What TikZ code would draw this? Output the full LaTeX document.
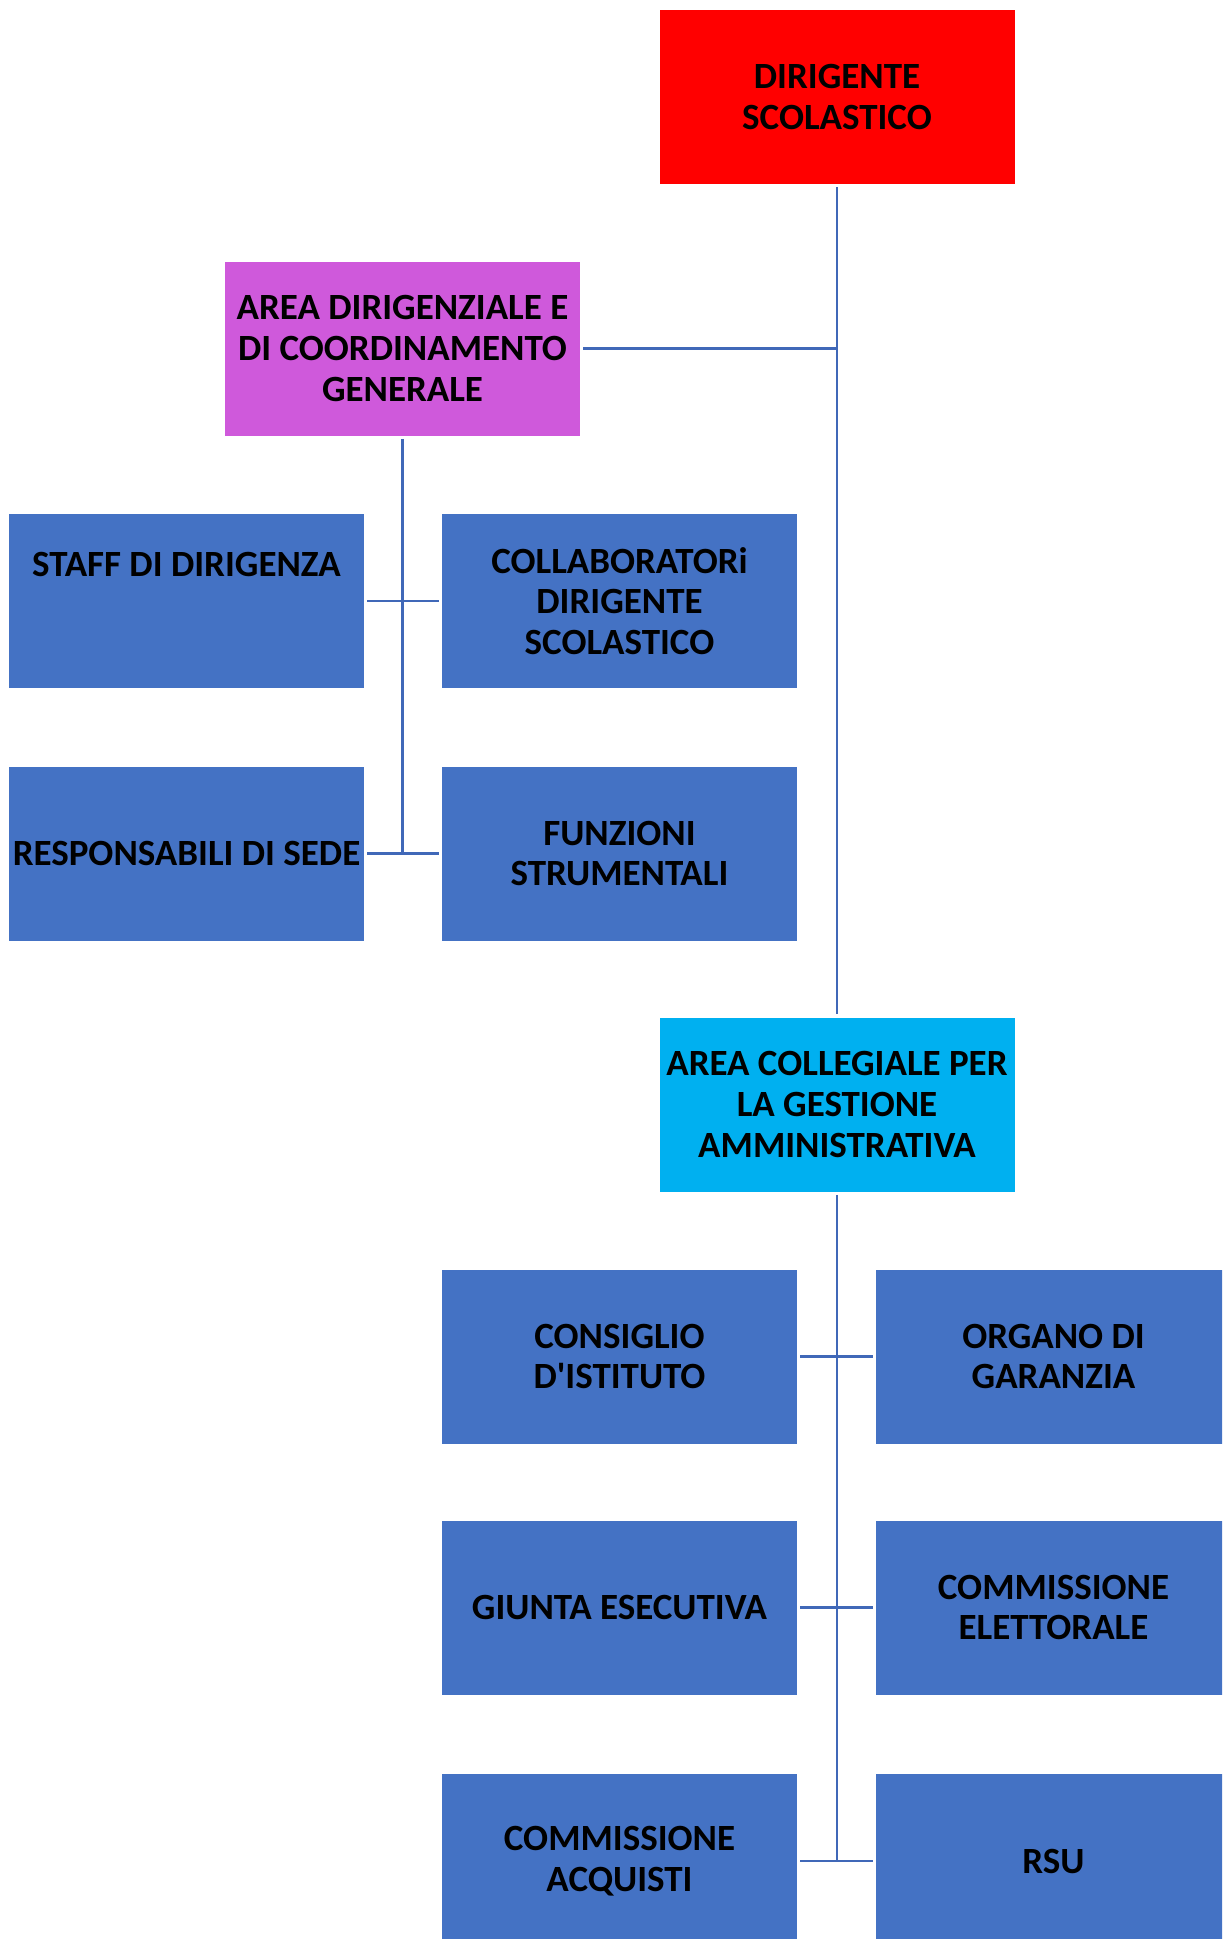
\documentclass[tikz,border=0pt]{standalone}
\usepackage{fontspec}
\setmainfont{Carlito}
\definecolor{boxblue}{HTML}{4472C4}
\definecolor{linkblue}{HTML}{4068B8}
\definecolor{headred}{HTML}{FF0000}
\definecolor{orchidbox}{HTML}{CF59DB}
\definecolor{cyanbox}{HTML}{00B0F0}
\begin{document}
\begin{tikzpicture}[x=0.75pt,y=-0.75pt,
  orgbox/.style={rectangle, fill=boxblue, minimum width=266.25pt, minimum height=130.5pt,
    inner sep=0pt, outer sep=2.5pt, align=center, text=black,
    font=\fontsize{27.75}{30.6}\selectfont\bfseries},
  link/.style={draw=linkblue, line width=2pt}]
\useasboundingbox (0,0) rectangle (1222,1939);
\clip (0,0) rectangle (1222,1939);
\fill[white] (0,0) rectangle (1222,1939);

\node[orgbox, fill=headred] (dir) at (837,97) {DIRIGENTE\\SCOLASTICO};
\node[orgbox, fill=orchidbox] (areadir) at (402.5,348.5) {AREA DIRIGENZIALE E\\DI COORDINAMENTO\\GENERALE};
\node[orgbox] (staff) at (186.5,601) {STAFF DI DIRIGENZA\\[-15pt]\strut\\\strut};
\node[orgbox] (collab) at (619.5,601) {COLLABORATORi\\DIRIGENTE\\SCOLASTICO};
\node[orgbox] (resp) at (186.5,853.5) {RESPONSABILI DI SEDE};
\node[orgbox] (funz) at (619.5,853.5) {FUNZIONI\\STRUMENTALI};
\node[orgbox, fill=cyanbox] (areacoll) at (837,1104.5) {AREA COLLEGIALE PER\\LA GESTIONE\\AMMINISTRATIVA};
\node[orgbox] (consiglio) at (619.5,1356.5) {CONSIGLIO\\D\textquotesingle ISTITUTO};
\node[orgbox] (organo) at (1053.5,1356.5) {ORGANO DI\\GARANZIA};
\node[orgbox] (giunta) at (619.5,1607.5) {GIUNTA ESECUTIVA};
\node[orgbox] (commel) at (1053.5,1607.5) {COMMISSIONE\\ELETTORALE};
\node[orgbox] (commacq) at (619.5,1861) {COMMISSIONE\\ACQUISTI};
\node[orgbox] (rsu) at (1053.5,1861) {RSU};

% main trunk
\draw[link] (dir.south) -- (areacoll.north);
\draw[link] (areadir.east) -- (areadir.east -| dir.south);
% left subtree
\draw[link] (areadir.south) -- (areadir.south |- resp.east);
\draw[link] (staff.east) -- (collab.west);
\draw[link] (resp.east) -- (funz.west);
% bottom subtree
\draw[link] (areacoll.south) -- (areacoll.south |- commacq.east);
\draw[link] (consiglio.east) -- (organo.west);
\draw[link] (giunta.east) -- (commel.west);
\draw[link] (commacq.east) -- (rsu.west);
\end{tikzpicture}
\end{document}
